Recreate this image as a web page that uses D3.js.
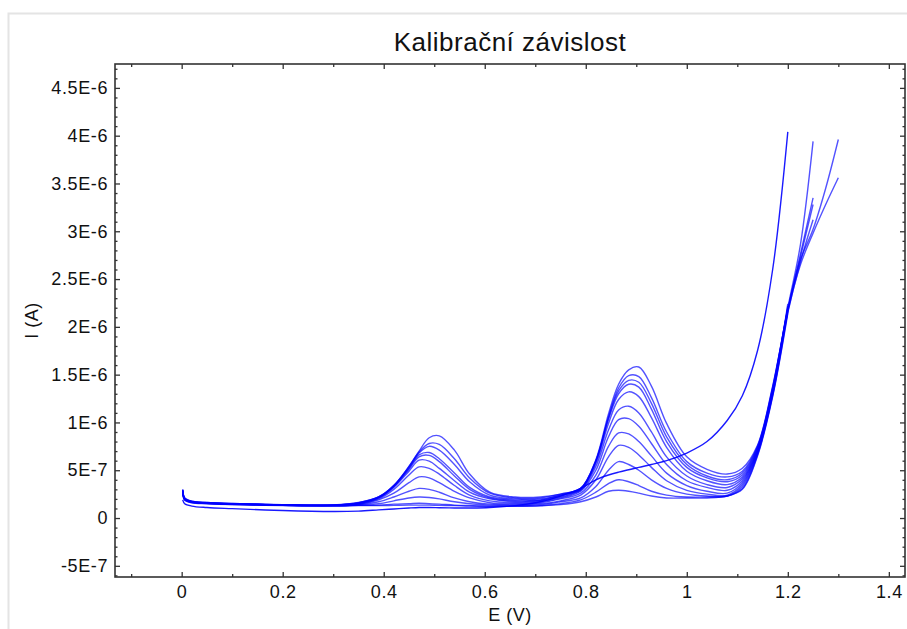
<!DOCTYPE html>
<html>
<head>
<meta charset="utf-8">
<script src="https://cdn.jsdelivr.net/npm/d3@7"></script>
<style>
  body { margin: 0; background: #fff; }
  text { font-family: "Liberation Sans", Arial, sans-serif; fill: #111; }
</style>
</head>
<body>
<div id="chart-container"></div>
<script>
// Potential grid (V), shared by all scans
const potential = [0.002, 0.006, 0.02, 0.05, 0.10, 0.20, 0.30, 0.35, 0.39, 0.42, 0.45, 0.47, 0.49, 0.51, 0.54, 0.57,
  0.61, 0.66, 0.71, 0.75, 0.79, 0.82, 0.845, 0.865, 0.885, 0.905, 0.93, 0.96, 1.00, 1.04, 1.08, 1.11, 1.14, 1.17,
  1.20, 1.225, 1.25, 1.275, 1.30];

// Currents in units of 1E-7 A (null = scan ended)
const scanA = [1.9, 1.5, 1.25, 1.1, 0.98, 0.78, 0.68, 0.72, 0.85, 0.95, 1.05, 1.1, 1.1, 1.08, 1.05, 1.05,
  1.1, 1.3, 1.7, 2.3, 3.1, 4.0, 4.5, 4.8, 5.05, 5.3, 5.6, 6.0, 6.8, 8.0, 10.2, 12.8, 17.5, 26.0,
  40.4, null, null, null, null];
const scan01 = [2.7, 1.85, 1.6, 1.5, 1.4, 1.3, 1.25, 1.3, 1.3, 1.32, 1.35, 1.35, 1.35, 1.32, 1.3, 1.25,
  1.22, 1.22, 1.28, 1.4, 1.7, 2.2, 2.8, 2.9, 2.8, 2.6, 2.3, 2.1, 2.1, 2.1, 2.3, 3.0, 6.5, 12.7,
  21.4, null, null, null, null];
const scan02 = [2.75, 1.9, 1.62, 1.52, 1.42, 1.32, 1.27, 1.32, 1.35, 1.45, 1.5, 1.55, 1.5, 1.45, 1.35, 1.3,
  1.25, 1.25, 1.3, 1.5, 1.9, 2.7, 3.6, 4.0, 3.8, 3.4, 2.8, 2.4, 2.2, 2.2, 2.3, 3.1, 6.6, 12.8,
  21.6, null, null, null, null];
const scan03 = [2.8, 1.9, 1.64, 1.53, 1.43, 1.33, 1.28, 1.35, 1.5, 1.8, 2.1, 2.2, 2.15, 2.0, 1.7, 1.5,
  1.35, 1.3, 1.4, 1.7, 2.1, 3.3, 5.0, 5.9, 5.6, 5.0, 4.0, 3.1, 2.5, 2.3, 2.3, 3.3, 6.7, 12.9,
  21.8, null, null, null, null];
const scan04 = [2.8, 1.95, 1.65, 1.55, 1.45, 1.34, 1.3, 1.38, 1.7, 2.2, 2.8, 3.1, 3.0, 2.7, 2.1, 1.7,
  1.45, 1.4, 1.5, 1.8, 2.4, 4.0, 6.4, 7.6, 7.4, 6.6, 5.3, 3.9, 2.9, 2.5, 2.4, 3.5, 6.8, 13.0,
  22.0, null, null, null, null];
const scan05 = [2.85, 1.95, 1.66, 1.55, 1.46, 1.35, 1.3, 1.42, 1.9, 2.6, 3.7, 4.3, 4.2, 3.7, 2.8, 2.1,
  1.6, 1.5, 1.6, 2.0, 2.6, 4.5, 7.5, 8.9, 8.8, 8.0, 6.5, 4.7, 3.4, 2.8, 2.6, 3.7, 6.9, 13.1,
  22.2, null, null, null, null];
const scan06 = [2.85, 2.0, 1.68, 1.57, 1.47, 1.36, 1.32, 1.45, 2.0, 3.0, 4.5, 5.35, 5.2, 4.6, 3.4, 2.4,
  1.8, 1.6, 1.7, 2.1, 2.8, 5.0, 8.5, 10.3, 10.4, 9.6, 7.8, 5.6, 3.9, 3.2, 2.9, 3.9, 7.0, 13.2,
  22.4, null, null, null, null];
const scan07 = [2.9, 2.0, 1.7, 1.58, 1.48, 1.37, 1.33, 1.5, 2.1, 3.2, 4.9, 6.05, 5.95, 5.2, 3.9, 2.7,
  2.0, 1.7, 1.8, 2.2, 2.9, 5.4, 9.2, 11.3, 11.7, 11.0, 9.0, 6.4, 4.4, 3.5, 3.2, 4.1, 7.1, 13.3,
  21.5, 26.8, 31.2, null, null];
const scan08 = [2.9, 2.0, 1.7, 1.58, 1.48, 1.37, 1.34, 1.52, 2.1, 3.3, 5.1, 6.4, 6.55, 5.9, 4.4, 3.0,
  2.1, 1.8, 1.85, 2.3, 3.0, 5.7, 9.9, 12.4, 13.2, 12.7, 10.5, 7.4, 4.9, 3.9, 3.5, 4.3, 7.2, 13.4,
  21.7, 27.3, 32.8, null, null];
const scan09 = [2.9, 2.05, 1.72, 1.6, 1.5, 1.38, 1.35, 1.55, 2.15, 3.3, 5.2, 6.6, 6.85, 6.2, 4.7, 3.2,
  2.2, 1.9, 1.9, 2.4, 3.0, 5.9, 10.3, 13.0, 14.0, 13.7, 11.4, 8.0, 5.3, 4.2, 3.8, 4.5, 7.3, 13.5,
  21.8, 27.6, 33.5, null, null];
const scan10 = [2.95, 2.05, 1.72, 1.6, 1.5, 1.38, 1.35, 1.58, 2.2, 3.4, 5.3, 6.8, 7.5, 7.1, 5.6, 3.8,
  2.4, 2.0, 2.0, 2.4, 3.1, 6.0, 10.5, 13.3, 14.4, 14.2, 12.0, 8.5, 5.6, 4.4, 4.0, 4.7, 7.4, 13.6,
  22.0, 28.6, 39.4, null, null];
const scan11 = [2.95, 2.1, 1.75, 1.62, 1.52, 1.4, 1.36, 1.6, 2.2, 3.4, 5.4, 6.9, 7.8, 7.7, 6.2, 4.2,
  2.6, 2.1, 2.1, 2.5, 3.1, 6.0, 10.6, 13.6, 14.9, 14.8, 12.6, 9.0, 5.9, 4.7, 4.3, 4.9, 7.5, 13.7,
  21.8, 27.0, 30.2, 34.5, 39.6];
const scan12 = [3.0, 2.1, 1.75, 1.62, 1.52, 1.4, 1.37, 1.62, 2.2, 3.4, 5.4, 7.0, 8.4, 8.6, 7.1, 4.6,
  2.7, 2.2, 2.2, 2.5, 3.1, 6.1, 10.9, 14.0, 15.5, 15.8, 13.8, 9.9, 6.4, 5.1, 4.6, 5.2, 7.6, 13.8,
  21.6, 26.5, 29.8, 32.8, 35.6];

const scans = [scanA, scan01, scan02, scan03, scan04, scan05, scan06, scan07, scan08, scan09, scan10, scan11, scan12];

// Tick values and labels
const xTicks = [0, 0.2, 0.4, 0.6, 0.8, 1, 1.2, 1.4];
const xTickLabels = ["0", "0.2", "0.4", "0.6", "0.8", "1", "1.2", "1.4"];
const yTicks = [-5e-7, 0, 5e-7, 1e-6, 1.5e-6, 2e-6, 2.5e-6, 3e-6, 3.5e-6, 4e-6, 4.5e-6];
const yTickLabels = ["-5E-7", "0", "5E-7", "1E-6", "1.5E-6", "2E-6", "2.5E-6", "3E-6", "3.5E-6", "4E-6", "4.5E-6"];

// Set dimensions and margins for the chart
const margin = { top: 64, right: 2, bottom: 52, left: 115 };
const width = 907 - margin.left - margin.right;
const height = 629 - margin.top - margin.bottom;

const x = d3.scaleLinear()
  .domain([-0.132, 1.432])
  .range([0, width]);

const y = d3.scaleLinear()
  .domain([-6.17e-7, 4.75e-6])
  .range([height, 0]);

const root = d3.select("#chart-container")
  .append("svg")
  .attr("width", 907)
  .attr("height", 629);

// light outer panel border
root.append("rect")
  .attr("x", 8.5)
  .attr("y", 13.5)
  .attr("width", 1000)
  .attr("height", 1000)
  .attr("fill", "none")
  .attr("stroke", "#e4e4e4")
  .attr("stroke-width", 2);

const svg = root.append("g")
  .attr("transform", `translate(${margin.left},${margin.top})`);

// clip for the curves
svg.append("clipPath")
  .attr("id", "plot-clip")
  .append("rect")
  .attr("width", width)
  .attr("height", height);

// Line generator
const line = d3.line()
  .defined(d => d[1] != null)
  .x(d => x(d[0]))
  .y(d => y(d[1] * 1e-7))
  .curve(d3.curveCatmullRom.alpha(0.5));

svg.append("g")
  .attr("clip-path", "url(#plot-clip)")
  .selectAll("path")
  .data(scans)
  .join("path")
  .attr("fill", "none")
  .attr("stroke", "#0000ff")
  .attr("stroke-opacity", (d, i) => i === 0 ? 0.9 : 0.68)
  .attr("stroke-width", 1.4)
  .attr("d", s => line(potential.map((e, i) => [e, s[i]])));

// minor ticks
const xMinor = d3.range(-0.1, 1.41, 0.1).filter(v => Math.abs(Math.round(v * 10) % 2) === 1);
const yMinor = d3.range(-6e-7, 4.71e-6, 1e-7).filter(v => Math.abs(Math.round(v * 1e7) % 5) !== 0);

function styleAxis(g) {
  g.select(".domain").remove();
  g.selectAll(".tick line").attr("stroke", "#333").attr("stroke-width", 1.3);
  g.selectAll(".tick text")
    .style("font-size", "18px")
    .style("letter-spacing", "0.6px")
    .attr("fill", "#111");
}

// bottom axis
svg.append("g")
  .attr("transform", `translate(0,${height})`)
  .call(d3.axisBottom(x).tickValues(xTicks).tickFormat((d, i) => xTickLabels[i]).tickSize(-5).tickPadding(8))
  .call(styleAxis);
svg.append("g")
  .attr("transform", `translate(0,${height})`)
  .call(d3.axisBottom(x).tickValues(xMinor).tickFormat("").tickSize(-3))
  .call(styleAxis);

// top axis
svg.append("g")
  .call(d3.axisTop(x).tickValues(xTicks).tickFormat("").tickSize(-5))
  .call(styleAxis);
svg.append("g")
  .call(d3.axisTop(x).tickValues(xMinor).tickFormat("").tickSize(-3))
  .call(styleAxis);

// left axis
svg.append("g")
  .call(d3.axisLeft(y).tickValues(yTicks).tickFormat((d, i) => yTickLabels[i]).tickSize(-5).tickPadding(7))
  .call(styleAxis);
svg.append("g")
  .call(d3.axisLeft(y).tickValues(yMinor).tickFormat("").tickSize(-2.5))
  .call(styleAxis);

// right axis
svg.append("g")
  .attr("transform", `translate(${width},0)`)
  .call(d3.axisRight(y).tickValues(yTicks).tickFormat("").tickSize(-5))
  .call(styleAxis);
svg.append("g")
  .attr("transform", `translate(${width},0)`)
  .call(d3.axisRight(y).tickValues(yMinor).tickFormat("").tickSize(-2.5))
  .call(styleAxis);

// frame
svg.append("rect")
  .attr("width", width)
  .attr("height", height)
  .attr("fill", "none")
  .attr("stroke", "#333")
  .attr("stroke-width", 1.6);

// Title and axis labels
root.append("text")
  .attr("x", margin.left + width / 2)
  .attr("y", 51)
  .attr("text-anchor", "middle")
  .style("font-size", "26px")
  .style("letter-spacing", "0.5px")
  .text("Kalibrační závislost");

root.append("text")
  .attr("x", margin.left + width / 2)
  .attr("y", 621)
  .attr("text-anchor", "middle")
  .style("font-size", "18px")
  .style("letter-spacing", "0.5px")
  .text("E (V)");

root.append("text")
  .attr("transform", `translate(38,${margin.top + height / 2}) rotate(-90)`)
  .attr("text-anchor", "middle")
  .style("font-size", "18px")
  .style("letter-spacing", "0.5px")
  .text("I (A)");
</script>
</body>
</html>
